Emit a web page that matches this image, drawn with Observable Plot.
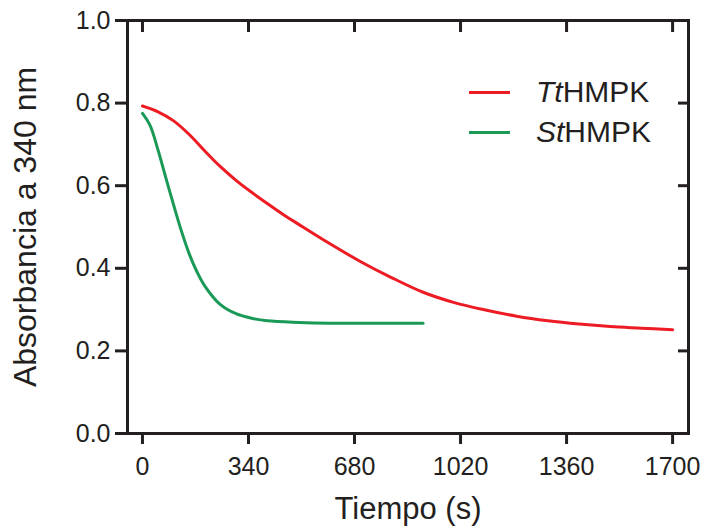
<!DOCTYPE html>
<html>
<head>
<meta charset="utf-8">
<script src="https://cdn.jsdelivr.net/npm/d3@7"></script>
<script src="https://cdn.jsdelivr.net/npm/@observablehq/plot@0.6"></script>
<style>
  html, body { margin: 0; padding: 0; background: #fff; }
  #wrap { position: relative; width: 705px; height: 526px; font-family: "Liberation Sans", Arial, sans-serif; color: #231f20; }
  #legend { position: absolute; left: 469px; top: 72px; font-size: 30px; line-height: 40px; }
  #legend .row { display: flex; align-items: center; }
  #legend .sw { display: inline-block; width: 41px; height: 3px; margin-right: 26px; }
</style>
</head>
<body>
<div id="wrap"></div>
<script>
// Time (s) and absorbance at 340 nm
const ttTime = [0, 50, 100, 150, 200, 250, 300, 350, 400, 450, 500, 600, 700, 800, 900, 1000, 1100, 1200, 1300, 1400, 1500, 1600, 1700];
const ttAbs  = [0.793, 0.779, 0.757, 0.724, 0.684, 0.646, 0.613, 0.584, 0.557, 0.531, 0.507, 0.460, 0.416, 0.377, 0.342, 0.317, 0.299, 0.284, 0.273, 0.265, 0.259, 0.255, 0.251];
const stTime = [0, 25, 50, 75, 100, 125, 150, 175, 200, 250, 300, 350, 400, 500, 600, 700, 800, 900];
const stAbs  = [0.775, 0.745, 0.686, 0.619, 0.553, 0.490, 0.435, 0.391, 0.357, 0.312, 0.290, 0.279, 0.273, 0.269, 0.267, 0.267, 0.267, 0.267];

const seriesNames = ["TtHMPK", "StHMPK"];
const seriesItalic = ["Tt", "St"];
const seriesColors = ["#ed1c24", "#1a9a56"];

const xTicks = [0, 340, 680, 1020, 1360, 1700];
const yTicks = [0, 0.2, 0.4, 0.6, 0.8, 1.0];

const rows = [
  ...ttTime.map((t, i) => ({series: seriesNames[0], t, a: ttAbs[i]})),
  ...stTime.map((t, i) => ({series: seriesNames[1], t, a: stAbs[i]}))
];

const ink = "#231f20";
const chart = Plot.plot({
  width: 705,
  height: 526,
  marginLeft: 127,
  marginRight: 17,
  marginTop: 20,
  marginBottom: 93,
  style: {fontFamily: "Liberation Sans, Arial, sans-serif", color: ink, background: "white"},
  x: {domain: [-48, 1751]},
  y: {domain: [0, 1]},
  color: {domain: seriesNames, range: seriesColors},
  marks: [
    Plot.line(rows, {x: "t", y: "a", z: "series", stroke: "series", strokeWidth: 3, curve: "catmull-rom"}),
    Plot.axisX(xTicks, {anchor: "bottom", tickSize: 11, tickPadding: 13, fontSize: 25, strokeWidth: 3, stroke: ink, fill: ink, tickFormat: d => String(d), label: null}),
    Plot.axisX([], {anchor: "bottom", tickSize: 0, label: "Tiempo (s)", labelAnchor: "center", labelArrow: "none", labelOffset: 85, fontSize: 31, fill: ink}),
    Plot.axisX(xTicks, {anchor: "top", tickSize: -11, strokeWidth: 3, stroke: ink, tickFormat: () => "", label: null}),
    Plot.axisY(yTicks, {anchor: "left", tickSize: 12, tickPadding: 5, fontSize: 25, strokeWidth: 3, stroke: ink, fill: ink, tickFormat: d3.format(".1f"), label: null}),
    Plot.axisY([], {anchor: "left", tickSize: 0, label: "Absorbancia a 340 nm", labelAnchor: "center", labelArrow: "none", labelOffset: 114, fontSize: 32, fill: ink}),
    Plot.axisY(yTicks, {anchor: "right", tickSize: -11, strokeWidth: 3, stroke: ink, tickFormat: () => "", label: null}),
    Plot.frame({stroke: ink, strokeWidth: 3})
  ]
});
const wrap = document.getElementById("wrap");
wrap.appendChild(chart);

// Legend (in-frame, upper right)
const legend = document.createElement("div");
legend.id = "legend";
seriesNames.forEach((name, i) => {
  const row = document.createElement("div");
  row.className = "row";
  const sw = document.createElement("span");
  sw.className = "sw";
  sw.style.background = seriesColors[i];
  const lab = document.createElement("span");
  const it = document.createElement("i");
  it.textContent = seriesItalic[i];
  lab.appendChild(it);
  lab.appendChild(document.createTextNode(name.slice(seriesItalic[i].length)));
  row.appendChild(sw);
  row.appendChild(lab);
  legend.appendChild(row);
});
wrap.appendChild(legend);
</script>
</body>
</html>
